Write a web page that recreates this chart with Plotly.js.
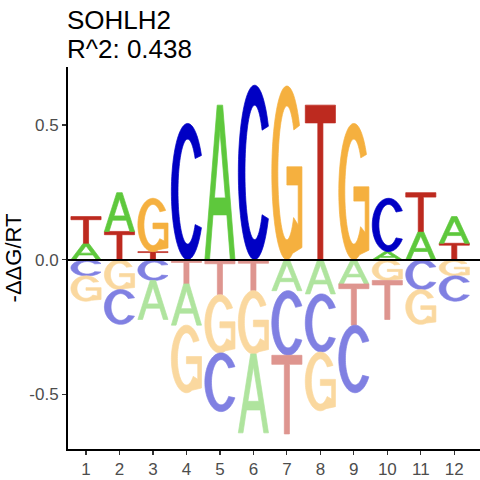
<!DOCTYPE html>
<html>
<head>
<meta charset="utf-8">
<script src="https://cdn.plot.ly/plotly-3.0.1.min.js"></script>
<style>html,body{margin:0;padding:0;background:#fff;}#chart{width:480px;height:480px;}</style>
</head>
<body>
<div id="chart"></div>
<script>
// ---- data ----
const positions = [1, 2, 3, 4, 5, 6, 7, 8, 9, 10, 11, 12];
const tickLabels = ['1','2','3','4','5','6','7','8','9','10','11','12'];
const bases = ['A', 'C', 'G', 'T'];
const valA = [0.061, 0.144, -0.145, -0.153, 0.574, -0.293, -0.115, -0.127, -0.090, 0.030, 0.105, 0.099];
const valC = [-0.060, -0.129, -0.077, 0.506, -0.218, 0.648, -0.240, -0.216, -0.251, 0.198, -0.111, -0.094];
const valG = [-0.094, -0.111, 0.198, -0.251, -0.216, -0.235, 0.645, -0.218, 0.506, -0.077, -0.129, -0.060];
const valT = [0.099, 0.105, 0.030, -0.090, -0.130, -0.115, -0.292, 0.574, -0.153, -0.145, 0.144, 0.061];
const yTicks = [-0.5, 0.0, 0.5];
const yTickLabels = ['-0.5', '0.0', '0.5'];
const titleLine1 = 'SOHLH2';
const titleLine2 = 'R^2: 0.438';
const yTitle = '-ΔΔG/RT';

// ---- styles ----
const colorPos = {A: '#5ec83c', C: '#0000c4', G: '#f5b03f', T: '#bd2a1f'};
const colorNeg = {A: '#afe49e', C: '#8080e2', G: '#fad89f', T: '#de958f'};
const letterWidth = 0.9;

// ---- glyph outlines in a unit box (u right, v up) ----
function arc(cx, cy, rx, ry, a0, a1, n) {
  const pts = [];
  for (let k = 0; k <= n; k++) {
    const a = (a0 + (a1 - a0) * k / n) * Math.PI / 180;
    pts.push([cx + rx * Math.cos(a), cy + ry * Math.sin(a)]);
  }
  return pts;
}
const glyphs = {
  T: [[[0,1],[1,1],[1,0.885],[0.585,0.885],[0.585,0],[0.415,0],[0.415,0.885],[0,0.885]]],
  A: [
    [[0,0],[0.155,0],[0.27,0.29],[0.73,0.29],[0.845,0],[1,0],[0.59,1],[0.41,1]],
    [[0.318,0.40],[0.5,0.84],[0.682,0.40]]
  ],
  C: [
    arc(0.54, 0.5, 0.54, 0.5, 32, 328, 70).concat(arc(0.54, 0.5, 0.32, 0.385, 321, 39, 70))
  ],
  G: [
    arc(0.5, 0.5, 0.5, 0.5, 33, 292, 70)
      .concat([[1, 0.07],[1, 0.535],[0.5, 0.535],[0.5, 0.43],[0.875, 0.43],[0.875, 0.2]])
      .concat(arc(0.5, 0.5, 0.3, 0.385, 318, 40, 70))
  ]
};

function glyphPath(letter, xc, y0, h) {
  let s = '';
  for (const sub of glyphs[letter]) {
    sub.forEach((p, k) => {
      const x = xc - letterWidth / 2 + p[0] * letterWidth;
      const y = y0 + p[1] * h;
      s += (k === 0 ? 'M' : 'L') + x.toFixed(5) + ',' + y.toFixed(5);
    });
    s += 'Z';
  }
  return s;
}

const values = {A: valA, C: valC, G: valG, T: valT};
const shapes = [];
positions.forEach((pos, i) => {
  const entries = bases.map(b => ({b, v: values[b][i]}));
  const pos_ = entries.filter(e => e.v > 0).sort((a, b) => a.v - b.v);
  const neg_ = entries.filter(e => e.v < 0).sort((a, b) => b.v - a.v);
  let y = 0;
  pos_.forEach(e => {
    shapes.push({type: 'path', xref: 'x', yref: 'y', layer: 'below', fillrule: 'evenodd',
      path: glyphPath(e.b, pos, y, e.v), fillcolor: colorPos[e.b],
      line: {color: colorPos[e.b], width: 0.7}});
    y += e.v;
  });
  y = 0;
  neg_.forEach(e => {
    shapes.push({type: 'path', xref: 'x', yref: 'y', layer: 'below', fillrule: 'evenodd',
      path: glyphPath(e.b, pos, y + e.v, -e.v), fillcolor: colorNeg[e.b],
      line: {color: colorNeg[e.b], width: 0.7}});
    y += e.v;
  });
});

const font = '"Liberation Sans", Arial, sans-serif';
const trace = {x: positions, y: positions.map(() => 0), type: 'scatter', mode: 'markers',
  marker: {opacity: 0}, hoverinfo: 'skip', showlegend: false};

const layout = {
  width: 480, height: 480,
  margin: {l: 68, r: 0, t: 67, b: 31, pad: 0},
  paper_bgcolor: '#ffffff', plot_bgcolor: '#ffffff',
  showlegend: false,
  font: {family: font, color: '#000'},
  xaxis: {
    range: [0.4624, 12.768], tickvals: positions, ticktext: tickLabels,
    showline: true, linecolor: '#000', linewidth: 2, mirror: false,
    ticks: 'outside', ticklen: 4, tickwidth: 1.2, tickcolor: '#333',
    tickfont: {family: font, size: 17, color: '#4d4d4d'},
    showgrid: false, zeroline: false, fixedrange: true
  },
  yaxis: {
    range: [-0.7029, 0.7156], tickvals: yTicks, ticktext: yTickLabels,
    showline: true, linecolor: '#000', linewidth: 2,
    ticks: 'outside', ticklen: 4, tickwidth: 1.2, tickcolor: '#333',
    tickfont: {family: font, size: 17, color: '#4d4d4d'},
    showgrid: false, zeroline: true, zerolinecolor: '#000', zerolinewidth: 1.7,
    title: {text: yTitle, font: {family: font, size: 22, color: '#000'}, standoff: 2},
    fixedrange: true
  },
  shapes: shapes,
  annotations: [
    {text: titleLine1, xref: 'paper', yref: 'paper', x: 0, y: 1.1243, xanchor: 'left', yanchor: 'middle',
     xshift: -2, borderpad: 0, showarrow: false, font: {family: font, size: 26, color: '#000'}},
    {text: titleLine2, xref: 'paper', yref: 'paper', x: 0, y: 1.0466, xanchor: 'left', yanchor: 'middle',
     xshift: -2, borderpad: 0, showarrow: false, font: {family: font, size: 26, color: '#000'}}
  ]
};

Plotly.newPlot('chart', [trace], layout, {staticPlot: true, displayModeBar: false});
</script>
</body>
</html>
